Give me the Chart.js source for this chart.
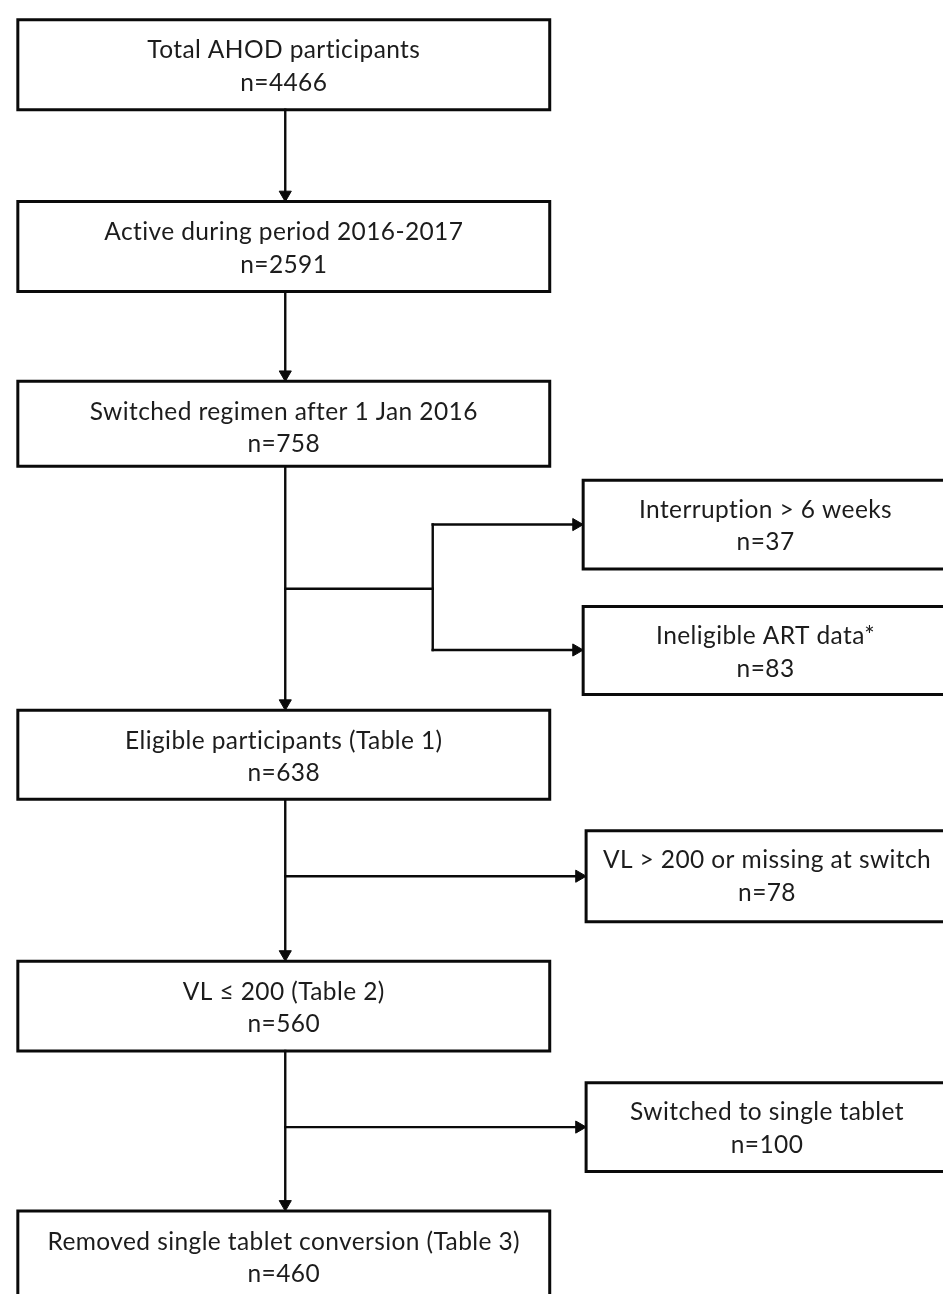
<!DOCTYPE html>
<html>
<head>
<meta charset="utf-8">
<script src="https://cdn.jsdelivr.net/npm/chart.js@4/dist/chart.umd.min.js"></script>
<style>
  body { margin: 0; background: #fff; }
  canvas { display: block; }
</style>
</head>
<body>
<canvas id="flowChart" width="951" height="1302"></canvas>
<script>
// flow stages and their counts
var stages = [
  "Total AHOD participants",
  "Active during period 2016-2017",
  "Switched regimen after 1 Jan 2016",
  "Eligible participants (Table 1)",
  "VL \u2264 200 (Table 2)",
  "Removed single tablet conversion (Table 3)"
];
var stageCounts = [4466, 2591, 758, 638, 560, 460];

// excluded groups, and which stage they leave from
var exclusions = [
  "Interruption > 6 weeks",
  "Ineligible ART data*",
  "VL > 200 or missing at switch",
  "Switched to single tablet"
];
var exclusionCounts = [37, 83, 78, 100];
var exclusionFrom = [2, 2, 3, 4];

// layout (pixels of a 951 x 1302 page, y going down)
var mainLeft = 10, mainRight = 551, mainX = 282;
var mainTops = [12, 196, 378, 711, 965, 1218];
var mainBottoms = [103, 287, 464, 801, 1056, 1309];
var sideLeft = [585, 585, 588, 588];
var sideRight = 960;
var sideTops = [478, 606, 833, 1088];
var sideBottoms = [568, 695, 925, 1178];
var sideArrowY = [523, 650, 879, 1133];
var branchY = 588, branchX = 432;  // shared branch for the first two exclusions

var ink = "#0a0a0a";
var arrowR = 7;

function boxPoints(l, t, r, b) {
  return [{x: l, y: t}, {x: r, y: t}, {x: r, y: b}, {x: l, y: b}, {x: l, y: t}];
}

function lineSet(points, width) {
  return {
    data: points,
    showLine: true,
    borderColor: ink,
    borderWidth: width,
    borderJoinStyle: "miter",
    borderCapStyle: "square",
    pointRadius: 0,
    fill: false
  };
}

var datasets = [];
var arrowHeads = [];
var arrowRot = [];

// boxes
for (var i = 0; i < stages.length; i++) {
  datasets.push(lineSet(boxPoints(mainLeft, mainTops[i], mainRight, mainBottoms[i]), 3));
}
for (var j = 0; j < exclusions.length; j++) {
  datasets.push(lineSet(boxPoints(sideLeft[j], sideTops[j], sideRight, sideBottoms[j]), 3));
}

// downward arrows between stages
for (var k = 0; k < stages.length - 1; k++) {
  datasets.push(lineSet([{x: mainX, y: mainBottoms[k]}, {x: mainX, y: mainTops[k + 1] - arrowR}], 2.4));
  arrowHeads.push({x: mainX, y: mainTops[k + 1] - arrowR});
  arrowRot.push(180);
}

// side arrows to exclusions
datasets.push(lineSet([{x: mainX, y: branchY}, {x: branchX, y: branchY}], 2.4));
datasets.push(lineSet([{x: branchX, y: sideArrowY[0]}, {x: branchX, y: sideArrowY[1]}], 2.4));
for (var m = 0; m < exclusions.length; m++) {
  var startX = exclusionFrom[m] === 2 ? branchX : mainX;
  datasets.push(lineSet([{x: startX, y: sideArrowY[m]}, {x: sideLeft[m] - arrowR, y: sideArrowY[m]}], 2.4));
  arrowHeads.push({x: sideLeft[m] - arrowR, y: sideArrowY[m]});
  arrowRot.push(90);
}

datasets.push({
  data: arrowHeads,
  pointStyle: "triangle",
  rotation: arrowRot,
  pointRadius: arrowR,
  backgroundColor: ink,
  borderColor: ink,
  borderWidth: 1,
  showLine: false
});

// text inside the boxes
var boxText = {
  id: "boxText",
  afterDatasetsDraw: function (chart) {
    var ctx = chart.ctx;
    var sx = chart.scales.x, sy = chart.scales.y;
    ctx.save();
    ctx.fillStyle = "#1c1c1c";
    ctx.font = "24.5px Lato";
    ctx.letterSpacing = "0.4px";  // also stops the "ti" ligature
    ctx.textAlign = "center";
    ctx.textBaseline = "alphabetic";
    for (var i = 0; i < stages.length; i++) {
      var cx = sx.getPixelForValue((mainLeft + mainRight) / 2);
      ctx.fillText(stages[i], cx, sy.getPixelForValue(mainTops[i] + 39));
      ctx.fillText("n=" + stageCounts[i], cx, sy.getPixelForValue(mainTops[i] + 72));
    }
    for (var j = 0; j < exclusions.length; j++) {
      var ex = sx.getPixelForValue((sideLeft[j] + sideRight) / 2 - 2);
      ctx.fillText(exclusions[j], ex, sy.getPixelForValue(sideTops[j] + 38));
      ctx.fillText("n=" + exclusionCounts[j], ex, sy.getPixelForValue(sideTops[j] + 71));
    }
    ctx.restore();
  }
};

var myFlow = new Chart(document.getElementById("flowChart").getContext("2d"), {
  type: "scatter",
  data: {datasets: datasets},
  options: {
    responsive: false,
    animation: false,
    layout: {padding: 0},
    plugins: {legend: {display: false}, tooltip: {enabled: false}},
    scales: {
      x: {type: "linear", min: 0, max: 951, display: false},
      y: {type: "linear", min: 0, max: 1302, reverse: true, display: false}
    }
  },
  plugins: [boxText]
});
</script>
</body>
</html>
